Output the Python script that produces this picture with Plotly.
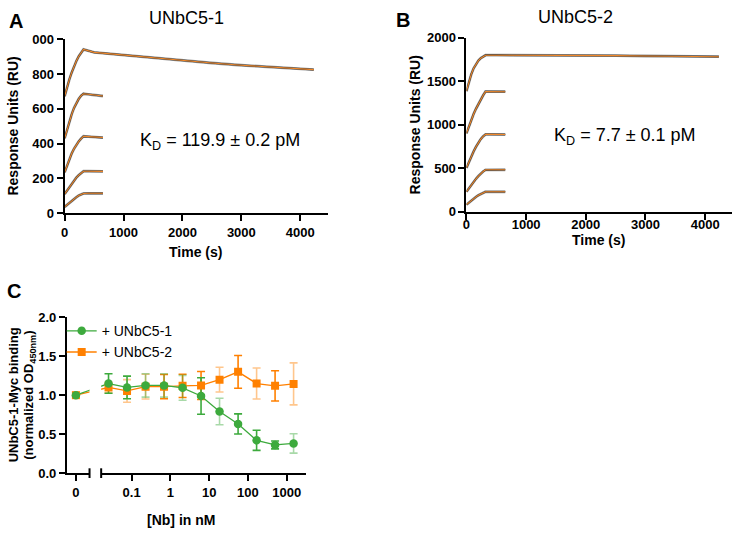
import plotly.graph_objects as go
import math

W, H = 733, 539
FONT = "Arial, Liberation Sans, sans-serif"

# ---------------- Panel A / B data (SPR sensorgrams) ----------------
t_long = [0, 40, 80, 120, 160, 200, 240, 280, 320, 500, 1000, 1500, 2000, 2500, 3000, 3500, 4000, 4230]
t_short = [0, 40, 80, 120, 160, 200, 240, 280, 320, 400, 500, 650]

a_top = [673, 725, 770, 810, 846, 877, 903, 924, 942, 925, 909, 893, 878, 864, 851, 840, 831, 826]
a_c2 = [431, 480, 528, 570, 606, 635, 658, 676, 687, 684, 680, 674]
a_c3 = [235, 275, 312, 344, 371, 394, 413, 429, 442, 440, 438, 435]
a_c4 = [110, 130, 150, 170, 189, 205, 219, 231, 241, 241, 240, 240]
a_c5 = [36, 48, 60, 72, 83, 92, 101, 108, 113, 114, 114, 114]

b_top = [1387, 1490, 1580, 1650, 1700, 1738, 1766, 1786, 1800, 1800, 1800, 1800, 1799, 1795, 1791, 1788, 1785, 1783]
b_c2 = [902, 985, 1060, 1125, 1185, 1240, 1290, 1340, 1383, 1383, 1382, 1381]
b_c3 = [505, 575, 638, 695, 748, 795, 836, 868, 890, 890, 889, 889]
b_c4 = [231, 272, 310, 346, 380, 411, 440, 464, 483, 484, 484, 484]
b_c5 = [82, 107, 130, 152, 172, 190, 207, 221, 231, 231, 231, 231]

a_yticks = [0, 200, 400, 600, 800, 1000]
a_yticktext = ["0", "200", "400", "600", "800", "000"]
b_yticks = [0, 500, 1000, 1500, 2000]
time_ticks = [0, 1000, 2000, 3000, 4000]

# ---------------- Panel C data ----------------
conc = [0.0254, 0.0762, 0.229, 0.686, 2.06, 6.17, 18.5, 55.6, 167, 500, 1500]
conc_ticks = [0.1, 1, 10, 100, 1000]
conc_ticktext = ["0.1", "1", "10", "100", "1000"]
zero_val = 1.0
green = [1.15, 1.10, 1.125, 1.125, 1.095, 0.99, 0.79, 0.63, 0.42, 0.36, 0.38]
green_err = [0.125, 0.145, 0.15, 0.15, 0.16, 0.235, 0.17, 0.13, 0.13, 0.05, 0.125]
orange = [1.10, 1.055, 1.11, 1.11, 1.12, 1.125, 1.20, 1.30, 1.15, 1.12, 1.145]
orange_err = [0.07, 0.145, 0.16, 0.155, 0.15, 0.18, 0.16, 0.21, 0.20, 0.195, 0.27]
green_solid_idx = [0, 1, 5, 7, 8, 9]
orange_solid_idx = [3, 4, 5, 7, 9]
c_yticks = [0, 0.5, 1.0, 1.5, 2.0]
c_yticktext = ["0.0", "0.5", "1.0", "1.5", "2.0"]

GREEN = "#3DAA3D"
GREEN_L = "rgba(61,170,61,0.45)"
ORANGE = "#FF8000"
ORANGE_L = "rgba(255,128,0,0.45)"
DARK = "#333333"
FITC = "#F0882A"

# ---------------- geometry (pixels) ----------------
def px(x):
    return x / W

def py(y):
    return 1 - y / H

fig = go.Figure()

def spr(xa, ya, t, v):
    fig.add_trace(go.Scatter(x=t, y=v, mode="lines", xaxis=xa, yaxis=ya,
                             line=dict(color="#9a9a9a", width=2.8), showlegend=False, hoverinfo="skip"))
    fig.add_trace(go.Scatter(x=t, y=v, mode="lines", xaxis=xa, yaxis=ya,
                             line=dict(color=DARK, width=1.7), showlegend=False, hoverinfo="skip"))
    fig.add_trace(go.Scatter(x=t, y=v, mode="lines", xaxis=xa, yaxis=ya,
                             line=dict(color=FITC, width=1.1), showlegend=False, hoverinfo="skip"))

spr("x", "y", t_long, a_top)
for c in (a_c2, a_c3, a_c4, a_c5):
    spr("x", "y", t_short, c)
spr("x2", "y2", t_long, b_top)
for c in (b_c2, b_c3, b_c4, b_c5):
    spr("x2", "y2", t_short, c)

# ---------------- Panel C ----------------
L_PX = (63.3, 86.0)
L_RANGE = [-0.9, 1.37]
R_PX = (97.7, 303.3)
R_RANGE = [-1.785, 3.487]

def right_px(c):
    return R_PX[0] + (math.log10(c) - R_RANGE[0]) / (R_RANGE[1] - R_RANGE[0]) * (R_PX[1] - R_PX[0])

def left_px(u):
    return L_PX[0] + (u - L_RANGE[0]) / (L_RANGE[1] - L_RANGE[0]) * (L_PX[1] - L_PX[0])

def left_units(p):
    return L_RANGE[0] + (p - L_PX[0]) / (L_PX[1] - L_PX[0]) * (L_RANGE[1] - L_RANGE[0])

def right_conc(p):
    return 10 ** (R_RANGE[0] + (p - R_PX[0]) / (R_PX[1] - R_PX[0]) * (R_RANGE[1] - R_RANGE[0]))

x_far_left = left_units(right_px(conc[0]))
c_zero_right = right_conc(left_px(0))

def series(vals, errs, solid_idx, col, col_l):
    # connecting line across the broken axis
    fig.add_trace(go.Scatter(x=[0, x_far_left], y=[zero_val, vals[0]], mode="lines",
                             xaxis="x3", yaxis="y3", line=dict(color=col, width=1.3),
                             showlegend=False, hoverinfo="skip"))
    fig.add_trace(go.Scatter(x=[c_zero_right, conc[0]], y=[zero_val, vals[0]], mode="lines",
                             xaxis="x4", yaxis="y3", line=dict(color=col, width=1.3),
                             showlegend=False, hoverinfo="skip"))
    for idxs, ecol in ((solid_idx, col), ([i for i in range(len(vals)) if i not in solid_idx], col_l)):
        fig.add_trace(go.Scatter(x=[conc[i] for i in idxs], y=[vals[i] for i in idxs], mode="markers",
                                 xaxis="x4", yaxis="y3", marker=dict(size=1, opacity=0),
                                 error_y=dict(type="data", array=[errs[i] for i in idxs], color=ecol,
                                              thickness=1.6, width=4),
                                 showlegend=False, hoverinfo="skip"))

def markers(vals, col, sym, size, name, rank):
    fig.add_trace(go.Scatter(x=[0], y=[zero_val], mode="markers", xaxis="x3", yaxis="y3",
                             marker=dict(color=col, symbol=sym, size=size), showlegend=False,
                             cliponaxis=False))
    fig.add_trace(go.Scatter(x=conc, y=vals, mode="lines+markers", xaxis="x4", yaxis="y3",
                             name=name, legendrank=rank,
                             line=dict(color=col, width=1.3),
                             marker=dict(color=col, symbol=sym, size=size)))

series(orange, orange_err, orange_solid_idx, ORANGE, ORANGE_L)
series(green, green_err, green_solid_idx, GREEN, GREEN_L)
markers(orange, ORANGE, "square", 8, "+ UNbC5-2", 2)
markers(green, GREEN, "circle", 8.5, "+ UNbC5-1", 1)

tickfont = dict(family=FONT, size=13, color="black", weight="bold")
axcommon = dict(showline=True, linewidth=2, linecolor="black", ticks="outside", ticklen=6,
                tickwidth=2, tickcolor="black", showgrid=False, zeroline=False, tickfont=tickfont,
                fixedrange=True)

fig.update_layout(
    width=W, height=H, margin=dict(l=0, r=0, t=0, b=0),
    paper_bgcolor="white", plot_bgcolor="rgba(0,0,0,0)",
    showlegend=True,
    legend=dict(x=px(58), y=py(317), xanchor="left", yanchor="top", bgcolor="rgba(0,0,0,0)",
                font=dict(family=FONT, size=14, color="black"), traceorder="normal",
                itemwidth=30, tracegroupgap=0),
    xaxis=dict(domain=[px(61), px(325.7)], range=[0, 4470], anchor="y", tickvals=time_ticks, **axcommon),
    yaxis=dict(domain=[py(212), py(33.3)], range=[0, 1000], anchor="x", tickvals=a_yticks,
               ticktext=a_yticktext, **axcommon),
    xaxis2=dict(domain=[px(465), px(731.7)], range=[0, 4445], anchor="y2", tickvals=time_ticks,
                ticklabelstandoff=-6, **axcommon),
    yaxis2=dict(domain=[py(210.7), py(31.7)], range=[0, 2000], anchor="x2", tickvals=b_yticks, **axcommon),
    xaxis3=dict(domain=[px(L_PX[0]), px(L_PX[1])], range=L_RANGE, anchor="y3", tickvals=[0],
                ticktext=["0"], **axcommon),
    xaxis4=dict(domain=[px(R_PX[0]), px(R_PX[1])], range=R_RANGE, type="log", anchor="y3",
                tickvals=conc_ticks, ticktext=conc_ticktext, **axcommon),
    yaxis3=dict(domain=[py(479.3), py(319.3)], range=[0, 2], anchor="x3", tickvals=c_yticks,
                ticktext=c_yticktext, **axcommon),
)

# axis break marks
for bx in (L_PX[1], R_PX[0]):
    fig.add_shape(type="line", xref="paper", yref="paper", x0=px(bx), x1=px(bx),
                  y0=py(474.5), y1=py(484.5), line=dict(color="black", width=2))

def ann(text, x, y, size, bold=False, angle=0, xanchor="center"):
    fig.add_annotation(text=text, x=px(x), y=py(y), xref="paper", yref="paper", showarrow=False,
                       xanchor=xanchor, yanchor="middle", textangle=angle,
                       font=dict(family=FONT, size=size, color="black", weight="bold" if bold else "normal"))

ann("A", 12, 14, 20, True)
ann("B", 401, 13, 20, True)
ann("C", 10, 292, 20, True)
ann("UNbC5-1", 183, 11, 18)
ann("UNbC5-2", 575, 10, 18)
ann("K<sub>D</sub> = 119.9 ± 0.2 pM", 217, 138, 18)
ann("K<sub>D</sub> = 7.7 ± 0.1 pM", 624, 133, 18)
ann("Response Units (RU)", 9, 122, 14, True, -90)
ann("Response Units (RU)", 413, 121, 14, True, -90)
ann("Time (s)", 193, 252, 14, True)
ann("Time (s)", 598, 240, 14, True)
ann("UNbC5-1-Myc binding", 9.5, 399, 13, True, -90)
ann("(normalized OD<sub>450nm</sub>)", 26, 399, 13, True, -90)
ann("[Nb] in nM", 178, 528, 14, True)

fig.write_html("out.html", config={"displayModeBar": False},
               post_script="document.body.style.margin='0';document.body.style.padding='0';")
